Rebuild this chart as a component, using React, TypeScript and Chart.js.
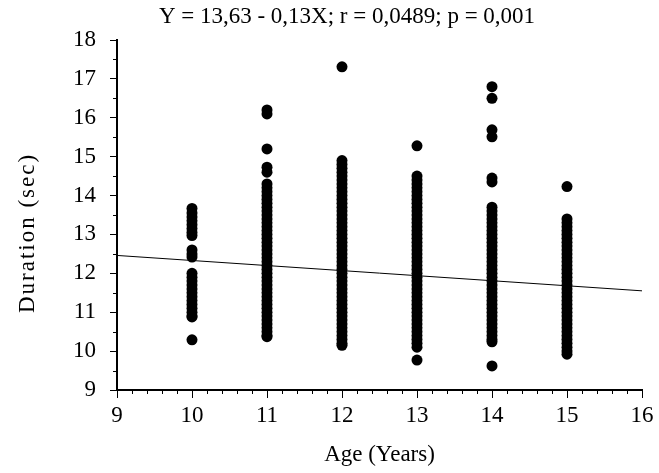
import React, { useEffect, useRef } from "react";
import { Chart, registerables } from "chart.js";

Chart.register(...registerables);

const titleText = "Y = 13,63 - 0,13X; r = 0,0489; p = 0,001";
const xTitle = "Age (Years)";
const yTitle = "Duration (sec)";

const ages = [10, 11, 12, 13, 14, 15];

const age10 = [13.67, 13.55, 13.45, 13.35, 13.25, 13.15, 13.05, 12.97, 12.6, 12.5, 12.42, 12.0, 11.9, 11.8, 11.7, 11.6, 11.5, 11.4, 11.3, 11.2, 11.1, 11.0, 10.9, 10.88, 10.29];
const age11 = [16.2, 16.1, 15.2, 14.73, 14.6, 14.3, 14.2, 14.1, 14.0, 13.9, 13.8, 13.7, 13.6, 13.5, 13.4, 13.3, 13.2, 13.1, 13.0, 12.9, 12.8, 12.7, 12.6, 12.5, 12.4, 12.3, 12.2, 12.1, 12.0, 11.9, 11.8, 11.7, 11.6, 11.5, 11.4, 11.3, 11.2, 11.1, 11.0, 10.9, 10.8, 10.7, 10.6, 10.5, 10.4, 10.37];
const age12 = [17.31, 14.9, 14.8, 14.7, 14.6, 14.5, 14.4, 14.3, 14.2, 14.1, 14.0, 13.9, 13.8, 13.7, 13.6, 13.5, 13.4, 13.3, 13.2, 13.1, 13.0, 12.9, 12.8, 12.7, 12.6, 12.5, 12.4, 12.3, 12.2, 12.1, 12.0, 11.9, 11.8, 11.7, 11.6, 11.5, 11.4, 11.3, 11.2, 11.1, 11.0, 10.9, 10.8, 10.7, 10.6, 10.5, 10.4, 10.3, 10.2, 10.15];
const age13 = [15.28, 14.5, 14.4, 14.3, 14.2, 14.1, 14.0, 13.9, 13.8, 13.7, 13.6, 13.5, 13.4, 13.3, 13.2, 13.1, 13.0, 12.9, 12.8, 12.7, 12.6, 12.5, 12.4, 12.3, 12.2, 12.1, 12.0, 11.9, 11.8, 11.7, 11.6, 11.5, 11.4, 11.3, 11.2, 11.1, 11.0, 10.9, 10.8, 10.7, 10.6, 10.5, 10.4, 10.3, 10.2, 10.1, 9.77];
const age14 = [16.8, 16.5, 15.69, 15.51, 14.45, 14.35, 13.7, 13.6, 13.5, 13.4, 13.3, 13.2, 13.1, 13.0, 12.9, 12.8, 12.7, 12.6, 12.5, 12.4, 12.3, 12.2, 12.1, 12.0, 11.9, 11.8, 11.7, 11.6, 11.5, 11.4, 11.3, 11.2, 11.1, 11.0, 10.9, 10.8, 10.7, 10.6, 10.5, 10.4, 10.3, 10.24, 9.62];
const age15 = [14.23, 13.4, 13.3, 13.2, 13.1, 13.0, 12.9, 12.8, 12.7, 12.6, 12.5, 12.4, 12.3, 12.2, 12.1, 12.0, 11.9, 11.8, 11.7, 11.6, 11.5, 11.4, 11.3, 11.2, 11.1, 11.0, 10.9, 10.8, 10.7, 10.6, 10.5, 10.4, 10.3, 10.2, 10.1, 10.0, 9.92];

const durations = [age10, age11, age12, age13, age14, age15];

const regIntercept = 13.63;
const regSlope = -0.13;
const xRange = [9, 16];
const yRange = [9, 18];

const FONT = "'Liberation Serif', 'Times New Roman', serif";

export default function App() {
  const ref = useRef<HTMLCanvasElement>(null);

  useEffect(() => {
    if (!ref.current) return;
    const points: { x: number; y: number }[] = [];
    ages.forEach((a, i) => durations[i].forEach((d) => points.push({ x: a, y: d })));
    const line = xRange.map((x) => ({ x, y: regIntercept + regSlope * x }));

    const decorations = {
      id: "decorations",
      afterDraw(chart: any) {
        const { ctx, scales } = chart;
        const xs = scales.x;
        const ys = scales.y;
        ctx.save();
        ctx.strokeStyle = "#000";
        ctx.lineWidth = 1;
        ctx.beginPath();
        for (let v = xRange[0]; v < xRange[1]; v += 1) {
          for (let k = 1; k < 5; k++) {
            const px = Math.round(xs.getPixelForValue(v + k * 0.2)) + 0.5;
            ctx.moveTo(px, xs.top);
            ctx.lineTo(px, xs.top + 4);
          }
        }
        for (let v = yRange[0]; v < yRange[1]; v += 1) {
          const py = Math.round(ys.getPixelForValue(v + 0.5)) + 0.5;
          ctx.moveTo(ys.right, py);
          ctx.lineTo(ys.right - 4, py);
        }
        ctx.stroke();
        ctx.fillStyle = "#000";
        ctx.font = `23px ${FONT}`;
        ctx.textAlign = "center";
        ctx.textBaseline = "middle";
        ctx.fillText(titleText, 347, 17);
        // y axis title, slightly spaced letters
        ctx.save();
        ctx.translate(28, 234);
        ctx.rotate(-Math.PI / 2);
        (ctx as any).letterSpacing = "2px";
        ctx.fillText(yTitle, 1, 0);
        ctx.restore();
        ctx.restore();
      },
    };

    const chart = new Chart(ref.current, {
      type: "scatter",
      data: {
        datasets: [
          {
            type: "line",
            data: line,
            borderColor: "#000",
            borderWidth: 1,
            pointRadius: 0,
            fill: false,
            order: 0,
          } as any,
          {
            data: points,
            backgroundColor: "#000",
            borderWidth: 0,
            pointRadius: 5.5,
            pointHoverRadius: 5.5,
            order: 1,
          },
        ],
      },
      options: {
        animation: false,
        responsive: true,
        maintainAspectRatio: false,
        layout: { padding: { top: 40, right: 17, left: 0, bottom: 0 } },
        plugins: { legend: { display: false }, tooltip: { enabled: false }, title: { display: false } },
        scales: {
          x: {
            type: "linear",
            min: xRange[0],
            max: xRange[1],
            afterFit: (s: any) => {
              s.height = 83;
            },
            ticks: {
              stepSize: 1,
              color: "#000",
              font: { family: FONT, size: 23 },
              padding: 4,
              maxRotation: 0,
            },
            grid: { drawOnChartArea: false, drawTicks: true, tickLength: 8, color: "#000", tickWidth: 1 },
            border: { display: true, color: "#000", width: 2 },
            title: {
              display: true,
              text: xTitle,
              color: "#000",
              font: { family: FONT, size: 23 },
              padding: { top: 0, bottom: 4 },
            },
          },
          y: {
            type: "linear",
            min: yRange[0],
            max: yRange[1],
            afterFit: (s: any) => {
              s.width = 117;
            },
            ticks: {
              stepSize: 1,
              color: "#000",
              font: { family: FONT, size: 23 },
              padding: 14,
            },
            grid: { drawOnChartArea: false, drawTicks: true, tickLength: 7, color: "#000", tickWidth: 1 },
            border: { display: true, color: "#000", width: 2 },
            title: { display: false },
          },
        },
      },
      plugins: [decorations],
    });
    return () => chart.destroy();
  }, []);

  return (
    <div style={{ position: "absolute", left: 0, top: 0, width: 659, height: 473, background: "#fff" }}>
      <canvas ref={ref} role="img" aria-label={`${titleText}. ${yTitle} vs ${xTitle}`} />
    </div>
  );
}
